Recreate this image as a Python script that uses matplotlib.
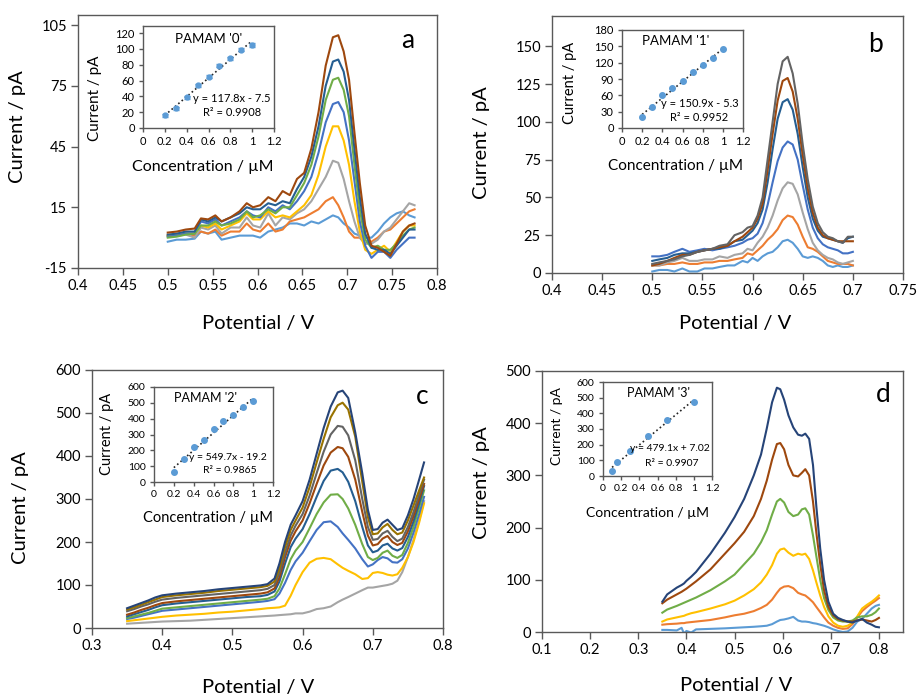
import matplotlib
matplotlib.use('Agg')
import matplotlib.pyplot as plt
from matplotlib.ticker import FuncFormatter

plt.rcParams['font.family'] = ['Lato', 'DejaVu Sans']

W, H = 919, 696

LIGHT_BLUE = '#5B9BD5'
ORANGE = '#ED7D31'
GRAY = '#A5A5A5'
GOLD = '#FFC000'
BLUE = '#4472C4'
GREEN = '#70AD47'
DARK_BLUE = '#255E91'
BROWN = '#9E480E'
DARK_GRAY = '#636363'
DARK_GOLD = '#997300'
NAVY = '#264478'
FRAME = '#595959'

# ---- panel a: PAMAM '0' voltammograms ----
pot_a = [0.500, 0.510, 0.520, 0.530, 0.537, 0.545, 0.553, 0.560, 0.570, 0.580, 0.588, 0.595,
         0.603, 0.612, 0.620, 0.628, 0.636, 0.644, 0.652, 0.660, 0.668, 0.676, 0.684, 0.690,
         0.696, 0.702, 0.708, 0.714, 0.720, 0.727, 0.734, 0.741, 0.748, 0.755, 0.762, 0.769, 0.775]
curves_a = [
    [-2, -1, -1, -0.5, 3, 2, 3, -1, 0, 1, 1, 1, 0, 3, 4, 5, 7, 7, 6, 8, 7, 9, 11, 10, 7, 5, 2, 1, 0, 0, 3, 7, 10, 12, 13, 11, 10],
    [1, 1, 2, 1, 3, 2, 4, 1, 3, 3, 7, 4, 3, 7, 3, 4, 8, 9, 10, 12, 14, 18, 20, 16, 10, 3, 0, 0, -3, -2, 0, 3, 4, 7, 10, 13, 14],
    [1, 1, 1.5, 0, 5, 4, 6, 2, 5, 5, 10, 6, 5, 12, 6, 10, 9, 12, 14, 18, 24, 30, 38, 37, 29, 18, 8, 0, -3, -3, -1, 3, 5, 9, 13, 17, 16],
    [1, 1, 2, 2, 6, 5, 7, 4, 6, 8, 12, 9, 9, 13, 10, 11, 10, 13, 16, 21, 31, 45, 55, 55, 48, 36, 18, 3, -6, -8, -6, -4, -7, -2, 3, 6, 6],
    [0.5, 1, 2, 2, 8, 7, 9, 6, 8, 10, 13, 11, 10, 15, 13, 16, 14, 18, 23, 30, 42, 57, 66, 67, 62, 48, 28, 8, -4, -10, -7, -7, -10, -6, -3, 0, 0],
    [0, 0.5, 1.5, 2, 6, 6, 8, 6, 7, 9, 13, 10, 11, 14, 12, 15, 15, 21, 27, 36, 50, 68, 78, 79, 73, 60, 36, 14, -1, -5, -4, -6, -6, -3, 1, 4, 5],
    [1.5, 2, 3, 3, 9, 8, 10, 8, 10, 12, 15, 14, 14, 17, 16, 18, 17, 24, 30, 40, 55, 75, 87, 88, 82, 68, 44, 20, 2, -5, -6, -6, -8, -4, 0, 4, 4],
    [2.5, 3, 4, 4.5, 9.5, 9, 11, 8, 10, 13, 17, 15, 16, 20, 18, 23, 21, 29, 32, 44, 62, 85, 99, 100, 92, 78, 52, 27, 6, -4, -5, -7, -9, -3, 3, 6, 7],
]
colors_a = [LIGHT_BLUE, ORANGE, GRAY, GOLD, BLUE, GREEN, DARK_BLUE, BROWN]
conc_a = [0.2, 0.3, 0.4, 0.5, 0.6, 0.7, 0.8, 0.9, 1.0]
resp_a = [16, 25, 39, 54, 65, 79, 88, 99, 105]
err_a = [2, 2, 2, 2, 2, 2, 2, 2, 3]
fit_a = (117.8, -7.5, 0.9908)

# ---- panel b: PAMAM '1' ----
pot_b = [0.500, 0.507, 0.515, 0.522, 0.530, 0.537, 0.545, 0.552, 0.560, 0.567, 0.575, 0.582,
         0.590, 0.595, 0.600, 0.605, 0.610, 0.615, 0.620, 0.625, 0.630, 0.635, 0.640, 0.645,
         0.650, 0.655, 0.660, 0.665, 0.670, 0.675, 0.680, 0.685, 0.690, 0.695, 0.700]
curves_b = [
    [1, 2, 2, 1, 3, 1, 1, 3, 3, 4, 5, 5, 8, 7, 10, 8, 11, 13, 14, 17, 21, 22, 20, 16, 11, 10, 11, 10, 8, 5, 4, 5, 4, 4, 5],
    [5, 5, 6, 6, 7, 6, 6, 7, 7, 8, 8, 9, 10, 13, 12, 15, 18, 22, 25, 29, 35, 38, 37, 32, 24, 17, 16, 14, 11, 8, 7, 6, 6, 6, 5],
    [5, 5, 7, 8, 10, 8, 8, 9, 9, 11, 10, 12, 13, 16, 15, 20, 24, 30, 38, 48, 56, 60, 59, 52, 40, 29, 20, 15, 12, 10, 9, 7, 6, 7, 8],
    [11, 11, 12, 14, 16, 14, 15, 16, 15, 16, 17, 18, 20, 22, 23, 26, 33, 45, 60, 74, 83, 87, 85, 75, 58, 42, 30, 23, 19, 17, 16, 15, 13, 13, 14],
    [8, 9, 10, 12, 13, 13, 14, 15, 16, 16, 18, 21, 22, 25, 28, 33, 42, 60, 82, 102, 113, 115, 108, 92, 70, 50, 36, 28, 24, 23, 22, 21, 20, 23, 24],
    [5, 6, 8, 10, 12, 12, 14, 15, 16, 17, 18, 21, 24, 27, 30, 36, 46, 68, 92, 114, 127, 129, 120, 102, 78, 56, 40, 30, 25, 23, 22, 21, 21, 21, 21],
    [6, 7, 8, 9, 11, 12, 14, 15, 16, 18, 19, 25, 27, 30, 31, 38, 50, 75, 100, 125, 140, 143, 132, 112, 85, 62, 44, 33, 27, 24, 23, 21, 20, 24, 24],
]
colors_b = [LIGHT_BLUE, ORANGE, GRAY, BLUE, DARK_BLUE, BROWN, DARK_GRAY]
conc_b = [0.2, 0.3, 0.4, 0.5, 0.6, 0.7, 0.8, 0.9, 1.0]
resp_b = [21, 38, 60, 73, 87, 102, 115, 129, 145]
fit_b = (150.9, -5.3, 0.9952)

# ---- panel c: PAMAM '2' ----
pot_c = [0.350, 0.360, 0.370, 0.380, 0.390, 0.400, 0.420, 0.440, 0.460, 0.480, 0.500, 0.520,
         0.540, 0.550, 0.560, 0.567, 0.575, 0.583, 0.590, 0.600, 0.610, 0.620, 0.630, 0.640,
         0.650, 0.657, 0.665, 0.675, 0.685, 0.693, 0.700, 0.707, 0.714, 0.721, 0.728, 0.735,
         0.742, 0.750, 0.758, 0.766, 0.773]
curves_c = [
    [10, 11, 12, 13, 14, 15, 16, 17, 19, 21, 23, 25, 27, 28, 29, 30, 31, 32, 34, 34, 38, 44, 46, 50, 60, 66, 72, 80, 88, 94, 94, 96, 98, 100, 103, 110, 130, 165, 205, 250, 295],
    [16, 18, 20, 22, 24, 26, 29, 31, 33, 36, 38, 41, 44, 46, 47, 48, 52, 75, 100, 130, 152, 161, 163, 160, 148, 140, 133, 125, 114, 116, 128, 130, 128, 124, 122, 125, 140, 165, 200, 245, 290],
    [21, 24, 28, 32, 36, 40, 43, 46, 49, 52, 55, 58, 61, 63, 67, 80, 105, 135, 155, 175, 202, 228, 246, 248, 235, 220, 205, 185, 160, 143, 148, 158, 165, 162, 153, 152, 160, 185, 222, 265, 305],
    [23, 27, 31, 35, 40, 45, 48, 51, 54, 57, 60, 63, 66, 68, 74, 92, 125, 160, 180, 200, 232, 265, 292, 310, 311, 300, 278, 240, 195, 165, 158, 163, 175, 180, 168, 163, 170, 198, 235, 280, 320],
    [27, 32, 37, 42, 48, 53, 57, 60, 63, 66, 69, 72, 74, 77, 85, 108, 150, 188, 208, 230, 265, 305, 342, 366, 370, 362, 340, 295, 235, 192, 176, 180, 192, 196, 185, 180, 186, 212, 248, 290, 330],
    [31, 36, 42, 47, 53, 58, 62, 65, 68, 71, 74, 77, 80, 83, 92, 118, 165, 203, 225, 250, 290, 335, 378, 408, 421, 418, 398, 345, 270, 215, 192, 195, 208, 214, 200, 193, 198, 225, 260, 300, 335],
    [39, 44, 50, 55, 61, 66, 70, 73, 76, 79, 82, 85, 88, 91, 100, 128, 175, 215, 238, 265, 308, 360, 410, 450, 470, 468, 448, 390, 300, 235, 205, 207, 220, 226, 212, 202, 208, 235, 270, 310, 345],
    [43, 48, 54, 60, 66, 72, 76, 79, 82, 86, 89, 92, 95, 98, 108, 138, 188, 228, 250, 280, 328, 385, 440, 490, 518, 524, 508, 445, 340, 258, 218, 220, 234, 242, 228, 218, 222, 250, 285, 320, 350],
    [46, 52, 58, 64, 71, 76, 80, 83, 86, 90, 93, 96, 99, 102, 115, 150, 200, 240, 262, 295, 345, 405, 465, 515, 548, 552, 535, 455, 360, 275, 228, 230, 245, 252, 240, 228, 232, 262, 300, 345, 385],
]
colors_c = [GRAY, GOLD, BLUE, GREEN, DARK_BLUE, BROWN, DARK_GRAY, DARK_GOLD, NAVY]
conc_c = [0.2, 0.3, 0.4, 0.5, 0.6, 0.7, 0.8, 0.9, 1.0]
resp_c = [65, 143, 221, 263, 333, 385, 425, 476, 509]
fit_c = (549.7, -19.2, 0.9865)

# ---- panel d: PAMAM '3' ----
pot_d = [0.350, 0.360, 0.380, 0.390, 0.395, 0.400, 0.410, 0.420, 0.450, 0.480, 0.500, 0.520,
         0.540, 0.555, 0.567, 0.578, 0.588, 0.595, 0.603, 0.612, 0.622, 0.632, 0.640, 0.647,
         0.655, 0.663, 0.670, 0.678, 0.686, 0.695, 0.705, 0.715, 0.725, 0.735, 0.745, 0.755,
         0.765, 0.775, 0.785, 0.793, 0.800]
curves_d = [
    [4, 4, 3, 8, -3, 2, -1, 5, 6, 7, 8, 9, 10, 11, 12, 15, 20, 23, 24, 26, 29, 22, 20, 20, 19, 17, 16, 14, 12, 9, 5, 2, 0, 1, 8, 20, 25, 35, 45, 50, 52],
    [14, 15, 16, 17, 17, 18, 19, 20, 23, 28, 32, 35, 40, 46, 52, 62, 75, 83, 87, 88, 84, 75, 72, 70, 64, 57, 48, 38, 28, 18, 12, 8, 6, 7, 15, 28, 40, 48, 55, 60, 65],
    [20, 24, 28, 30, 31, 33, 36, 38, 45, 53, 60, 70, 82, 95, 110, 128, 150, 158, 160, 152, 146, 150, 148, 150, 140, 118, 95, 70, 48, 30, 18, 12, 10, 12, 18, 30, 45, 52, 58, 64, 70],
    [37, 43, 50, 54, 56, 58, 62, 66, 80, 97, 110, 130, 150, 172, 195, 225, 250, 255, 248, 230, 222, 225, 235, 237, 225, 185, 145, 100, 65, 42, 28, 22, 20, 20, 22, 28, 30, 30, 33, 38, 45],
    [55, 62, 72, 77, 80, 83, 90, 97, 120, 150, 170, 192, 222, 255, 290, 330, 360, 362, 350, 320, 300, 298, 305, 312, 300, 250, 190, 130, 80, 48, 32, 25, 22, 20, 20, 22, 24, 22, 20, 23, 27],
    [58, 72, 85, 90, 93, 98, 106, 115, 150, 190, 220, 255, 300, 340, 390, 440, 468, 465, 445, 415, 392, 378, 376, 380, 370, 320, 240, 160, 100, 58, 35, 27, 23, 20, 18, 22, 25, 18, 14, 10, 9],
]
colors_d = [LIGHT_BLUE, ORANGE, GOLD, GREEN, BROWN, NAVY]
conc_d = [0.1, 0.15, 0.3, 0.5, 0.7, 1.0]
resp_d = [32, 87, 160, 253, 355, 470]
fit_d = (479.1, 7.02, 0.9907)


def rect(left, top, right, bottom):
    # pixel box -> figure fraction
    return [left / W, 1 - bottom / H, (right - left) / W, (bottom - top) / H]


def fig_text(x, y, s, **kw):
    fig.text(x / W, 1 - y / H, s, ha='center', va='center', **kw)


fmt = FuncFormatter(lambda v, p: '%g' % round(v, 3))


def style_axes(ax, tick_size, tick_len):
    for s in ax.spines.values():
        s.set_color(FRAME)
        s.set_linewidth(1.0)
    ax.tick_params(direction='out', length=tick_len, width=1.0, color=FRAME,
                   labelsize=tick_size, pad=3)
    ax.xaxis.set_major_formatter(fmt)
    ax.yaxis.set_major_formatter(fmt)


def main_panel(box, pot, curves, colors, xlim, xticks, ylim, yticks):
    ax = fig.add_axes(rect(*box))
    for ys, c in zip(curves, colors):
        ax.plot(pot, ys, color=c, lw=1.5, solid_joinstyle='round')
    ax.set_xlim(*xlim)
    ax.set_ylim(*ylim)
    ax.set_xticks(xticks)
    ax.set_yticks(yticks)
    style_axes(ax, 10.5, 5)
    return ax


def inset(box, conc, resp, fit, name, ymax, ystep, title_xy, eq_xy, r2_xy, fs, err=None):
    ax = fig.add_axes(rect(*box))
    slope, icept, r2 = fit
    x0, x1 = conc[0], conc[-1]
    ax.plot([x0, x1], [slope * x0 + icept, slope * x1 + icept], ':', color='#222222', lw=1.2)
    if err is not None:
        ax.errorbar(conc, resp, yerr=err, fmt='o', color=LIGHT_BLUE, ms=3.5,
                    elinewidth=1, capsize=2.5)
    else:
        ax.plot(conc, resp, 'o', color=LIGHT_BLUE, ms=4)
    ax.set_xlim(0, 1.2)
    ax.set_ylim(0, ymax)
    ax.set_xticks([0, 0.2, 0.4, 0.6, 0.8, 1.0, 1.2])
    ax.set_yticks(list(range(0, int(ymax) + 1, ystep))[:int(ymax // ystep) + 1])
    style_axes(ax, fs, 3)
    sign = '-' if icept < 0 else '+'
    ax.text(*title_xy, "PAMAM '%s'" % name, transform=ax.transAxes, ha='center',
            va='center', fontsize=fs + 1.5)
    ax.text(*eq_xy, 'y = %gx %s %g' % (slope, sign, abs(icept)), transform=ax.transAxes,
            ha='right', va='center', fontsize=fs)
    ax.text(*r2_xy, 'R² = %.4f' % r2, transform=ax.transAxes, ha='right', va='center',
            fontsize=fs)
    return ax


fig = plt.figure(figsize=(W / 100, H / 100), dpi=100)

main_panel((78, 15, 437, 268), pot_a, curves_a, colors_a, (0.4, 0.8),
           [0.4, 0.45, 0.5, 0.55, 0.6, 0.65, 0.7, 0.75, 0.8], (-15, 110), [-15, 15, 45, 75, 105])
main_panel((552, 16, 903, 273), pot_b, curves_b, colors_b, (0.4, 0.75),
           [0.4, 0.45, 0.5, 0.55, 0.6, 0.65, 0.7, 0.75], (0, 170), [0, 25, 50, 75, 100, 125, 150])
main_panel((92, 370, 443, 628), pot_c, curves_c, colors_c, (0.3, 0.8),
           [0.3, 0.4, 0.5, 0.6, 0.7, 0.8], (0, 600), [0, 100, 200, 300, 400, 500, 600])
main_panel((542, 371, 903, 632), pot_d, curves_d, colors_d, (0.1, 0.85),
           [0.1, 0.2, 0.3, 0.4, 0.5, 0.6, 0.7, 0.8], (0, 500), [0, 100, 200, 300, 400, 500])

inset((143, 26, 274, 128), conc_a, resp_a, fit_a, '0', 129, 20,
      (0.5, 0.87), (0.97, 0.29), (0.90, 0.15), 8, err=err_a)
inset((622, 30, 743, 128), conc_b, resp_b, fit_b, '1', 180, 30,
      (0.44, 0.89), (0.96, 0.255), (0.88, 0.11), 8)
inset((154, 387, 273, 482), conc_c, resp_c, fit_c, '2', 600, 100,
      (0.43, 0.88), (0.95, 0.26), (0.86, 0.12), 7.5)
inset((603, 382, 712, 476), conc_d, resp_d, fit_d, '3', 600, 100,
      (0.51, 0.88), (0.98, 0.29), (0.88, 0.13), 7.5)

# axis titles
for x, y in [(18, 127), (481, 143), (21, 508), (481, 483)]:
    fig_text(x, y, 'Current / pA', rotation=90, fontsize=14.5)
for x, y in [(258, 323), (735, 323), (258, 687), (736, 686)]:
    fig_text(x, y, 'Potential / V', fontsize=14.5)
for x, y, fs in [(95, 98, 11), (570, 83, 10.5), (107, 434, 10.5), (557, 426, 10)]:
    fig_text(x, y, 'Current / pA', rotation=90, fontsize=fs)
for x, y, fs in [(203, 167, 11.5), (676, 166, 11), (208, 518, 10.5), (648, 513, 10)]:
    fig_text(x, y, 'Concentration / µM', fontsize=fs)

for x, y, s in [(408, 40, 'a'), (875, 45, 'b'), (422, 397, 'c'), (883, 395, 'd')]:
    fig_text(x, y, s, fontsize=19)

fig.savefig('out.png', dpi=100)
